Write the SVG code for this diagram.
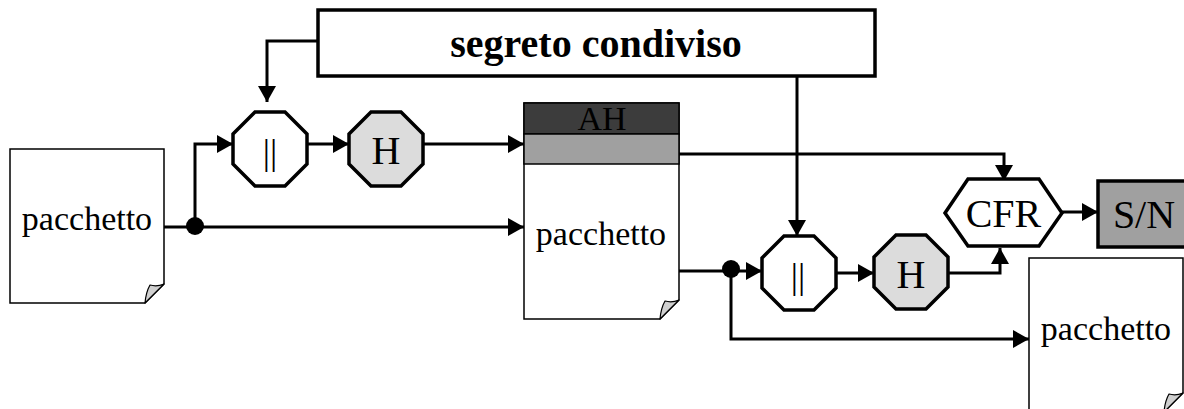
<svg xmlns="http://www.w3.org/2000/svg" width="1184" height="409" viewBox="0 0 1184 409">
<style>
.t{font-family:"Liberation Serif","Times New Roman",serif;fill:#000;text-anchor:middle}
.page{fill:#fff;stroke:#000;stroke-width:1.5}
.fold{fill:#d0d0d0;stroke:#000;stroke-width:1.2;stroke-linejoin:round}
.oct{stroke:#000;stroke-width:3.5;stroke-linejoin:miter}
.w{fill:#fff}
.g{fill:#dcdcdc}
.c{fill:none;stroke:#000;stroke-width:3}
</style>
<defs>
<marker id="ah" markerUnits="userSpaceOnUse" markerWidth="16" markerHeight="18" refX="16" refY="9" orient="auto">
<path d="M0,0 L16,9 L0,18 Z" fill="#000"/>
</marker>
</defs>
<rect width="1184" height="409" fill="#fff"/>

<g id="connectors">
<path class="c" d="M318,41 H267 V102" marker-end="url(#ah)"/>
<path class="c" d="M164,227 H524" marker-end="url(#ah)"/>
<path class="c" d="M195,227 V144 H233" marker-end="url(#ah)"/>
<path class="c" d="M307,144 H349" marker-end="url(#ah)"/>
<path class="c" d="M423,144 H524" marker-end="url(#ah)"/>
<path class="c" d="M679,154 H1004 V181" marker-end="url(#ah)"/>
<path class="c" d="M679,271 H762" marker-end="url(#ah)"/>
<path class="c" d="M731,271 V339 H1029" marker-end="url(#ah)"/>
<path class="c" d="M797,76 V236" marker-end="url(#ah)"/>
<path class="c" d="M836,273 H874" marker-end="url(#ah)"/>
<path class="c" d="M948,273 H1000 V248" marker-end="url(#ah)"/>
<path class="c" d="M1062,212 H1098" marker-end="url(#ah)"/>
<circle cx="195" cy="226" r="9" fill="#000"/>
<circle cx="731" cy="269" r="9" fill="#000"/>
</g>

<g id="segreto">
<rect x="318" y="10" width="557" height="66" fill="#fff" stroke="#000" stroke-width="3.5"/>
<text class="t" x="596" y="57" font-size="40" font-weight="bold">segreto condiviso</text>
</g>

<g id="pacchetto1">
<path class="page" d="M10,149 H164 V284 L145,303 H10 Z"/>
<path class="fold" d="M164,284 L145,303 Q146,292 150,285 Q157,287 164,284 Z"/>
<text class="t" x="87" y="230" font-size="34">pacchetto</text>
</g>

<g id="concat1">
<polygon class="oct w" points="255,112 285,112 307,134 307,164 285,186 255,186 233,164 233,134"/>
<text class="t" x="270" y="164" font-size="36">||</text>
</g>

<g id="hash1">
<polygon class="oct g" points="371,112 401,112 423,134 423,164 401,186 371,186 349,164 349,134"/>
<text class="t" x="386" y="164" font-size="40">H</text>
</g>

<g id="pacchettoAH">
<path class="page" d="M524,103 H679 V300 L660,319 H524 Z"/>
<rect x="524" y="103" width="155" height="31" fill="#3c3c3c" stroke="#000" stroke-width="1.5"/>
<rect x="524" y="134" width="155" height="30" fill="#a0a0a0" stroke="#000" stroke-width="1.5"/>
<path class="fold" d="M679,300 L660,319 Q661,308 665,301 Q672,303 679,300 Z"/>
<text class="t" x="602" y="130" font-size="34" fill="#111">AH</text>
<text class="t" x="601" y="245" font-size="34">pacchetto</text>
</g>

<g id="concat2">
<polygon class="oct w" points="784,236 814,236 836,258 836,288 814,310 784,310 762,288 762,258"/>
<text class="t" x="798" y="288" font-size="36">||</text>
</g>

<g id="hash2">
<polygon class="oct g" points="896,235 926,235 948,257 948,287 926,309 896,309 874,287 874,257"/>
<text class="t" x="911" y="288" font-size="40">H</text>
</g>

<g id="cfr">
<polygon class="oct w" points="945,213 968,179 1039,179 1062,213 1039,246 968,246"/>
<text class="t" x="1003.5" y="227" font-size="40">CFR</text>
</g>

<g id="sn">
<rect x="1098" y="181" width="100" height="66" fill="#a0a0a0" stroke="#000" stroke-width="3.5"/>
<text class="t" x="1144" y="228" font-size="40">S/N</text>
</g>

<g id="pacchetto3">
<path class="page" d="M1029,258 H1183 V393 L1164,412 H1029 Z"/>
<path class="fold" d="M1183,393 L1164,412 Q1165,401 1169,394 Q1176,396 1183,393 Z"/>
<text class="t" x="1106" y="340" font-size="34">pacchetto</text>
</g>
</svg>
